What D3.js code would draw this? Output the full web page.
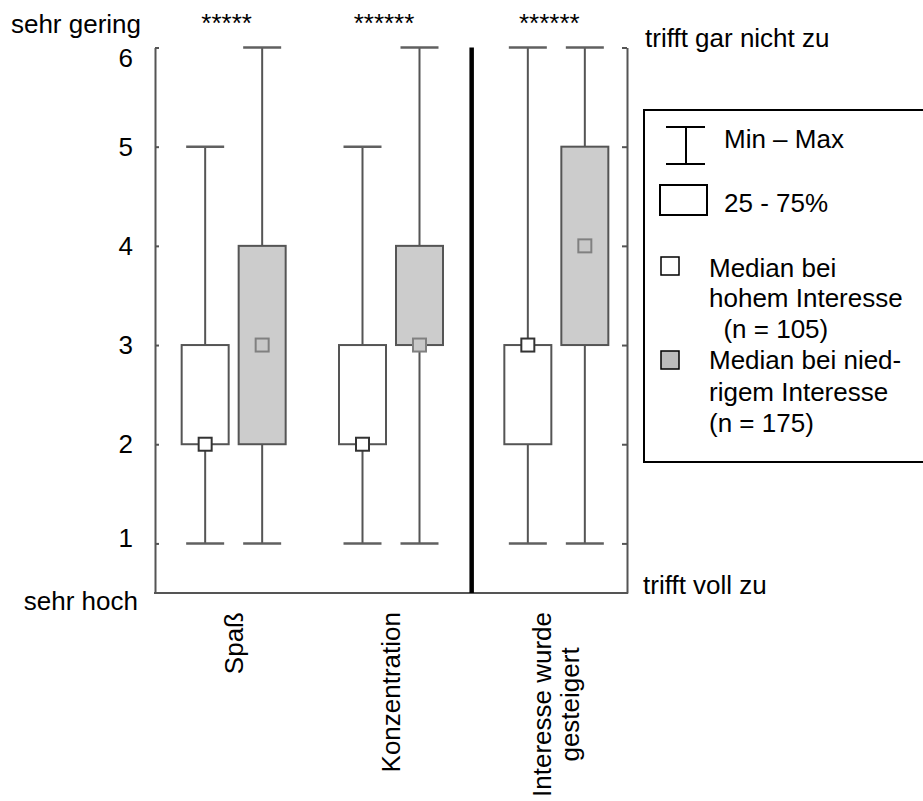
<!DOCTYPE html>
<html>
<head>
<meta charset="utf-8">
<script src="https://cdn.jsdelivr.net/npm/d3@7"></script>
<style>
  html, body { margin: 0; padding: 0; background: #fff; }
  svg { display: block; font-family: "Liberation Sans", Arial, sans-serif; }
</style>
</head>
<body>
<svg id="chart" width="923" height="801"></svg>
<script>
// Item groups (x categories); the last one sits right of the divider
const groups = ["Spaß", "Konzentration", "Interesse wurde gesteigert"];
const groupLines = [["Spaß"], ["Konzentration"], ["Interesse wurde", "gesteigert"]];
const seriesKeys = ["hoch", "niedrig"];

// Five-number summaries, group with high interest (n = 105)
const minHigh = [1, 1, 1];
const q1High  = [2, 2, 2];
const medHigh = [2, 2, 3];
const q3High  = [3, 3, 3];
const maxHigh = [5, 5, 6];

// Five-number summaries, group with low interest (n = 175)
const minLow = [1, 1, 1];
const q1Low  = [2, 3, 3];
const medLow = [3, 3, 4];
const q3Low  = [4, 4, 5];
const maxLow = [6, 6, 6];

// Significance marks above each item
const stars = ["*****", "******", "******"];

// Scale ticks and anchor labels
const yTicks = [1, 2, 3, 4, 5, 6];
const yTopLabel = "sehr gering";
const yBottomLabel = "sehr hoch";
const rightTopLabel = "trifft gar nicht zu";
const rightBottomLabel = "trifft voll zu";

const legendTexts = {
  range: "Min – Max",
  box: "25 - 75%",
  medHigh: ["Median bei", "hohem Interesse", "\u00a0\u00a0(n = 105)"],
  medLow: ["Median bei nied-", "rigem Interesse", "(n = 175)"]
};

// ---- layout ----
const plotLeft = 155, plotRight = 627;
const fontSize = 26;
const axisColor = "#555";
const boxW = 47, capW = 38, medSize = 13;
const dividerShift = 8;

const svg = d3.select("#chart");

const y = d3.scaleLinear().domain([0.5, 6]).range([593, 47.5]);

const x0 = d3.scaleBand().domain(groups).range([plotLeft, plotRight]);
const dividerIndex = 2;
const groupCenter = g => {
  const i = groups.indexOf(g);
  return x0(g) + x0.bandwidth() / 2 + (i >= dividerIndex ? dividerShift : 0);
};
const x1 = d3.scalePoint().domain(seriesKeys).range([-28.5, 28.5]);

// Build box records from the arrays
const boxes = [];
groups.forEach((g, i) => {
  boxes.push({ g, s: "hoch", min: minHigh[i], q1: q1High[i], med: medHigh[i], q3: q3High[i], max: maxHigh[i] });
  boxes.push({ g, s: "niedrig", min: minLow[i], q1: q1Low[i], med: medLow[i], q3: q3Low[i], max: maxLow[i] });
});
const cx = d => groupCenter(d.g) + x1(d.s);

// ---- axes ----
const yDom = y.domain();
svg.append("g")
  .attr("transform", `translate(${plotLeft},0)`)
  .call(d3.axisRight(y).tickValues(yTicks).tickSize(4).tickSizeOuter(0).tickFormat(""))
  .call(g => g.selectAll("path,line").attr("stroke", axisColor).attr("stroke-width", 2));

svg.append("g")
  .attr("transform", `translate(${plotRight},0)`)
  .call(d3.axisLeft(y).tickValues(yTicks).tickSize(5).tickSizeOuter(0).tickFormat(""))
  .call(g => g.selectAll("path,line").attr("stroke", axisColor).attr("stroke-width", 2));

svg.append("line")
  .attr("x1", plotLeft - 1).attr("x2", plotRight + 1)
  .attr("y1", y(yDom[0])).attr("y2", y(yDom[0]))
  .attr("stroke", axisColor).attr("stroke-width", 2);

// divider between the first two items and the last one
const dividerX = x0(groups[dividerIndex]) + 2;
svg.append("line")
  .attr("x1", dividerX).attr("x2", dividerX)
  .attr("y1", y(yDom[1])).attr("y2", y(yDom[0]))
  .attr("stroke", "#000").attr("stroke-width", 4.5);

// y tick labels, kept inside the labelled band
const labelTop = 57.5, labelBottom = 538;
svg.append("g").selectAll("text")
  .data(yTicks).join("text")
  .attr("x", 133)
  .attr("y", v => Math.max(labelTop, Math.min(labelBottom, y(v))))
  .attr("dy", "0.35em")
  .attr("text-anchor", "end")
  .attr("font-size", fontSize)
  .text(v => v);

svg.append("text").attr("x", 141).attr("y", 33).attr("text-anchor", "end")
  .attr("font-size", fontSize).text(yTopLabel);
svg.append("text").attr("x", 138).attr("y", 610).attr("text-anchor", "end")
  .attr("font-size", fontSize).text(yBottomLabel);
svg.append("text").attr("x", 645).attr("y", 47).attr("font-size", fontSize).text(rightTopLabel);
svg.append("text").attr("x", 643).attr("y", 594).attr("font-size", fontSize).text(rightBottomLabel);

// ---- boxes ----
const bx = svg.append("g").selectAll("g").data(boxes).join("g");

// whisker stem
bx.append("line")
  .attr("x1", cx).attr("x2", cx)
  .attr("y1", d => y(d.min)).attr("y2", d => y(d.max))
  .attr("stroke", axisColor).attr("stroke-width", 2);
// caps
["min", "max"].forEach(k => {
  bx.append("line")
    .attr("x1", d => cx(d) - capW / 2).attr("x2", d => cx(d) + capW / 2)
    .attr("y1", d => y(d[k])).attr("y2", d => y(d[k]))
    .attr("stroke", "#606060").attr("stroke-width", 2.5);
});
// interquartile box
bx.append("rect")
  .attr("x", d => cx(d) - boxW / 2)
  .attr("y", d => y(d.q3))
  .attr("width", boxW)
  .attr("height", d => y(d.q1) - y(d.q3))
  .attr("fill", d => d.s === "hoch" ? "#fff" : "#cccccc")
  .attr("stroke", axisColor).attr("stroke-width", 2);
// median marker
bx.append("rect")
  .attr("x", d => cx(d) - medSize / 2)
  .attr("y", d => y(d.med) - medSize / 2)
  .attr("width", medSize).attr("height", medSize)
  .attr("fill", d => d.s === "hoch" ? "#fff" : "#c8c8c8")
  .attr("stroke", d => d.s === "hoch" ? "#333" : "#808080")
  .attr("stroke-width", 2);

// significance stars
svg.append("g").selectAll("text")
  .data(groups).join("text")
  .attr("x", g => groupCenter(g) - 7)
  .attr("y", 32)
  .attr("text-anchor", "middle")
  .attr("font-size", fontSize)
  .text((g, i) => stars[i]);

// rotated category labels, top-aligned below the axis, lines centred
const catTop = 612, lineH = 28;
groups.forEach((g, i) => {
  const lines = groupLines[i];
  const gg = svg.append("g")
    .attr("transform", `translate(${groupCenter(g)},${catTop}) rotate(-90)`);
  const t = gg.selectAll("text").data(lines).join("text")
    .attr("font-size", fontSize)
    .attr("text-anchor", "middle")
    .attr("y", (l, j) => (j - (lines.length - 1) / 2) * lineH + 9)
    .text(l => l);
  const maxW = d3.max(t.nodes(), n => n.getComputedTextLength());
  t.attr("x", -maxW / 2);
});

// ---- legend ----
const lg = svg.append("g");
lg.append("rect")
  .attr("x", 644).attr("y", 110).attr("width", 300).attr("height", 352)
  .attr("fill", "#fff").attr("stroke", "#000").attr("stroke-width", 2);

// Min – Max glyph
lg.append("line").attr("x1", 666).attr("x2", 705).attr("y1", 127).attr("y2", 127).attr("stroke", "#000").attr("stroke-width", 2);
lg.append("line").attr("x1", 666).attr("x2", 705).attr("y1", 164).attr("y2", 164).attr("stroke", "#000").attr("stroke-width", 2);
lg.append("line").attr("x1", 686).attr("x2", 686).attr("y1", 127).attr("y2", 164).attr("stroke", "#000").attr("stroke-width", 2);
lg.append("text").attr("x", 724).attr("y", 148).attr("font-size", fontSize).text(legendTexts.range);

// box glyph
lg.append("rect").attr("x", 660).attr("y", 185).attr("width", 47).attr("height", 30)
  .attr("fill", "#fff").attr("stroke", "#000").attr("stroke-width", 2);
lg.append("text").attr("x", 724).attr("y", 212).attr("font-size", fontSize).text(legendTexts.box);

// median glyphs
lg.append("rect").attr("x", 661).attr("y", 257).attr("width", 18).attr("height", 18)
  .attr("fill", "#fff").attr("stroke", "#000").attr("stroke-width", 1.5);
lg.append("rect").attr("x", 661).attr("y", 351).attr("width", 18).attr("height", 18)
  .attr("fill", "#bdbdbd").attr("stroke", "#000").attr("stroke-width", 1.5);

const legLineH = 30.5;
lg.append("g").selectAll("text").data(legendTexts.medHigh).join("text")
  .attr("x", 709).attr("y", (l, j) => 276.5 + j * legLineH)
  .attr("font-size", fontSize).text(l => l);
lg.append("g").selectAll("text").data(legendTexts.medLow).join("text")
  .attr("x", 709).attr("y", (l, j) => 369 + j * 31.5)
  .attr("font-size", fontSize).text(l => l);
</script>
</body>
</html>
